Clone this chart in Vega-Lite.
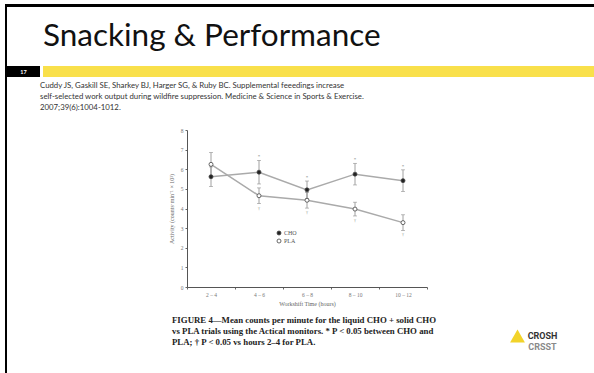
{
  "$schema": "https://vega.github.io/schema/vega-lite/v6.json",
  "padding": {"left": 5, "top": 4, "right": 0, "bottom": 0},
  "background": "white",
  "config": {
    "view": {"stroke": null},
    "font": "Lato",
    "concat": {"spacing": 0},
    "axisY": {
      "labelOverlap": false, "grid": false,
      "labelFont": "Liberation Serif", "labelFontSize": 5.5, "labelColor": "#777777",
      "tickSize": 2, "tickColor": "#666666", "domainColor": "#555555", "domainWidth": 1,
      "labelPadding": 2, "titleFont": "Liberation Serif", "titleFontSize": 6, "titleFontWeight": "normal",
      "titleColor": "#666666", "titlePadding": 6
    }
  },
  "datasets": {
    "perf": [
      {"time": "2 – 4", "group": "CHO", "mean": 5.62, "lo": 5.12, "hi": 6.12, "note": ""},
      {"time": "4 – 6", "group": "CHO", "mean": 5.85, "lo": 5.25, "hi": 6.45, "note": "*"},
      {"time": "6 – 8", "group": "CHO", "mean": 4.95, "lo": 4.5, "hi": 5.4, "note": "*"},
      {"time": "8 – 10", "group": "CHO", "mean": 5.75, "lo": 5.2, "hi": 6.3, "note": "*"},
      {"time": "10 – 12", "group": "CHO", "mean": 5.42, "lo": 4.87, "hi": 5.97, "note": "*"},
      {"time": "2 – 4", "group": "PLA", "mean": 6.25, "lo": 5.65, "hi": 6.85, "note": ""},
      {"time": "4 – 6", "group": "PLA", "mean": 4.65, "lo": 4.25, "hi": 5.05, "note": "†"},
      {"time": "6 – 8", "group": "PLA", "mean": 4.42, "lo": 4.02, "hi": 4.82, "note": "†"},
      {"time": "8 – 10", "group": "PLA", "mean": 3.97, "lo": 3.62, "hi": 4.32, "note": "†"},
      {"time": "10 – 12", "group": "PLA", "mean": 3.28, "lo": 2.88, "hi": 3.68, "note": "†"}
    ],
    "logo": [
      {"col": "icon", "row": "r1", "label": ""},
      {"col": "txt", "row": "r1", "label": "CROSH"},
      {"col": "txt", "row": "r2", "label": "CRSST"}
    ]
  },
  "bounds": "flush",
  "spacing": 0,
  "hconcat": [
    {
      "width": 2, "height": 369,
      "view": {"fill": "#000000", "stroke": null},
      "data": {"values": []},
      "mark": "point"
    },
    {
      "bounds": "flush",
      "spacing": 0,
      "vconcat": [
        {
          "width": 587, "height": 3,
          "view": {"fill": "#000000", "stroke": null},
          "data": {"values": []},
          "mark": "point"
        },
        {
          "width": 587, "height": 59,
          "data": {"values": []},
          "mark": "point"
        },
        {
          "bounds": "flush",
          "spacing": 3,
          "title": {
            "text": "Snacking & Performance",
            "anchor": "start", "frame": "group", "dx": 36, "offset": 14,
            "fontSize": 31.5, "font": "Lato", "fontWeight": "normal", "color": "#111111"
          },
          "hconcat": [
            {
              "width": 33, "height": 11,
              "view": {"fill": "#000000", "stroke": null},
              "data": {"values": [{"n": "17"}]},
              "mark": {"type": "text", "color": "white", "fontSize": 5.5, "fontWeight": "bold", "font": "Lato"},
              "encoding": {"text": {"field": "n"}}
            },
            {
              "width": 551, "height": 11,
              "view": {"fill": "#f9e04b", "stroke": null},
              "data": {"values": []},
              "mark": "point"
            }
          ]
        },
        {
          "width": 587, "height": 64,
          "data": {"values": []},
          "mark": "point"
        },
        {
          "bounds": "flush",
          "spacing": 0,
          "hconcat": [
            {
              "width": 180, "height": 157,
              "data": {"values": []},
              "mark": "point"
            },
            {
              "width": 240, "height": 157,
              "title": {
                "text": [
                  "Cuddy JS, Gaskill SE, Sharkey BJ, Harger SG, & Ruby BC. Supplemental feeedings increase",
                  "self-selected work output during wildfire suppression. Medicine & Science in Sports & Exercise.",
                  "2007;39(6):1004-1012."
                ],
                "anchor": "start", "frame": "group", "dx": -147, "offset": 16,
                "fontSize": 7.8, "font": "Lato", "fontWeight": "normal", "color": "#333333", "lineHeight": 11
              },
              "data": {"name": "perf"},
              "encoding": {
                "x": {
                  "field": "time", "type": "ordinal",
                  "sort": ["2 – 4", "4 – 6", "6 – 8", "8 – 10", "10 – 12"],
                  "scale": {"paddingInner": 0, "paddingOuter": 0},
                  "axis": {
                    "title": "Workshift Time (hours)",
                    "labelAngle": 0, "labelFont": "Liberation Serif", "labelFontSize": 5.5, "labelColor": "#777777",
                    "tickBand": "extent", "tickSize": 2, "tickColor": "#666666",
                    "domainColor": "#555555", "domainWidth": 1,
                    "labelPadding": 3, "titleFont": "Liberation Serif", "titleFontSize": 6, "titleFontWeight": "normal",
                    "titleColor": "#666666", "titlePadding": 3
                  }
                }
              },
              "layer": [
                {
                  "mark": {"type": "rule", "color": "#888888", "strokeWidth": 0.8},
                  "encoding": {
                    "y": {"field": "lo", "type": "quantitative",
                      "scale": {"domain": [0, 8], "nice": false},
                      "axis": {"title": "Activity (counts·min⁻¹ × 10³)", "values": [0, 1, 2, 3, 4, 5, 6, 7, 8]}
                    },
                    "y2": {"field": "hi"}
                  }
                },
                {
                  "mark": {"type": "tick", "orient": "horizontal", "color": "#888888", "size": 4, "thickness": 0.8},
                  "encoding": {"y": {"field": "lo", "type": "quantitative",
                    "axis": {"title": "Activity (counts·min⁻¹ × 10³)", "values": [0, 1, 2, 3, 4, 5, 6, 7, 8]}}}
                },
                {
                  "mark": {"type": "tick", "orient": "horizontal", "color": "#888888", "size": 4, "thickness": 0.8},
                  "encoding": {"y": {"field": "hi", "type": "quantitative",
                    "axis": {"title": "Activity (counts·min⁻¹ × 10³)", "values": [0, 1, 2, 3, 4, 5, 6, 7, 8]}}}
                },
                {
                  "mark": {"type": "line", "color": "#aaaaaa", "strokeWidth": 1.5},
                  "encoding": {
                    "y": {"field": "mean", "type": "quantitative",
                      "axis": {"title": "Activity (counts·min⁻¹ × 10³)", "values": [0, 1, 2, 3, 4, 5, 6, 7, 8]}},
                    "detail": {"field": "group"}
                  }
                },
                {
                  "mark": {"type": "point", "shape": "circle", "filled": true, "size": 16, "stroke": "#444444", "strokeWidth": 0.8, "opacity": 1},
                  "encoding": {
                    "y": {"field": "mean", "type": "quantitative",
                      "axis": {"title": "Activity (counts·min⁻¹ × 10³)", "values": [0, 1, 2, 3, 4, 5, 6, 7, 8]}},
                    "fill": {
                      "field": "group", "type": "nominal",
                      "scale": {"domain": ["CHO", "PLA"], "range": ["#222222", "#ffffff"]},
                      "legend": {
                        "title": null, "orient": "none", "legendX": 271, "legendY": 226,
                        "symbolType": "circle", "symbolSize": 16, "symbolStrokeColor": "#444444", "symbolStrokeWidth": 0.8,
                        "labelFont": "Liberation Serif", "labelFontSize": 6, "labelColor": "#555555",
                        "rowPadding": 0, "padding": 0, "labelOffset": 2
                      }
                    }
                  }
                },
                {
                  "transform": [{"filter": "datum.group === 'CHO'"}],
                  "mark": {"type": "text", "baseline": "bottom", "dy": -1, "fontSize": 5, "color": "#777777", "font": "Liberation Serif"},
                  "encoding": {"y": {"field": "hi", "type": "quantitative",
                    "axis": {"title": "Activity (counts·min⁻¹ × 10³)", "values": [0, 1, 2, 3, 4, 5, 6, 7, 8]}}, "text": {"field": "note"}}
                },
                {
                  "transform": [{"filter": "datum.group === 'PLA'"}],
                  "mark": {"type": "text", "baseline": "top", "dy": 2, "fontSize": 5, "color": "#777777", "font": "Liberation Serif"},
                  "encoding": {"y": {"field": "lo", "type": "quantitative",
                    "axis": {"title": "Activity (counts·min⁻¹ × 10³)", "values": [0, 1, 2, 3, 4, 5, 6, 7, 8]}}, "text": {"field": "note"}}
                }
              ]
            }
          ]
        },
        {
          "width": 587, "height": 186,
          "data": {"values": []},
          "mark": "point"
        },
        {
          "bounds": "flush",
          "spacing": 0,
          "hconcat": [
            {
              "width": 165, "height": 40,
              "data": {"values": []},
              "mark": "point"
            },
            {
              "width": 333, "height": 40,
              "title": {
                "text": [
                  "FIGURE 4—Mean counts per minute for the liquid CHO + solid CHO",
                  "vs PLA trials using the Actical monitors. * P < 0.05 between CHO and",
                  "PLA; † P < 0.05 vs hours 2–4 for PLA."
                ],
                "orient": "top", "baseline": "top", "anchor": "start", "frame": "group", "offset": -31,
                "fontSize": 8.8, "font": "Liberation Serif", "fontWeight": "bold", "color": "#222222", "lineHeight": 11
              },
              "data": {"values": []},
              "mark": "point"
            },
            {
              "width": 50, "height": 40,
              "data": {"name": "logo"},
              "encoding": {
                "x": {"field": "col", "type": "nominal", "scale": {"type": "point", "domain": ["icon", "txt"], "padding": 0.5}, "axis": null},
                "y": {"field": "row", "type": "nominal", "scale": {"type": "point", "domain": ["r0", "r1", "r2"], "padding": 0.8}, "axis": null}
              },
              "layer": [
                {
                  "transform": [{"filter": "datum.col === 'icon'"}],
                  "mark": {"type": "point", "shape": "triangle-up", "filled": true, "color": "#f2d32a", "size": 220, "opacity": 1}
                },
                {
                  "transform": [{"filter": "datum.col === 'txt'"}],
                  "mark": {"type": "text", "font": "Roboto", "fontWeight": "bold", "fontSize": 9},
                  "encoding": {
                    "text": {"field": "label"},
                    "color": {"field": "label", "type": "nominal", "scale": {"domain": ["CROSH", "CRSST"], "range": ["#333333", "#8a8a8a"]}, "legend": null}
                  }
                }
              ]
            }
          ]
        }
      ]
    }
  ]
}
